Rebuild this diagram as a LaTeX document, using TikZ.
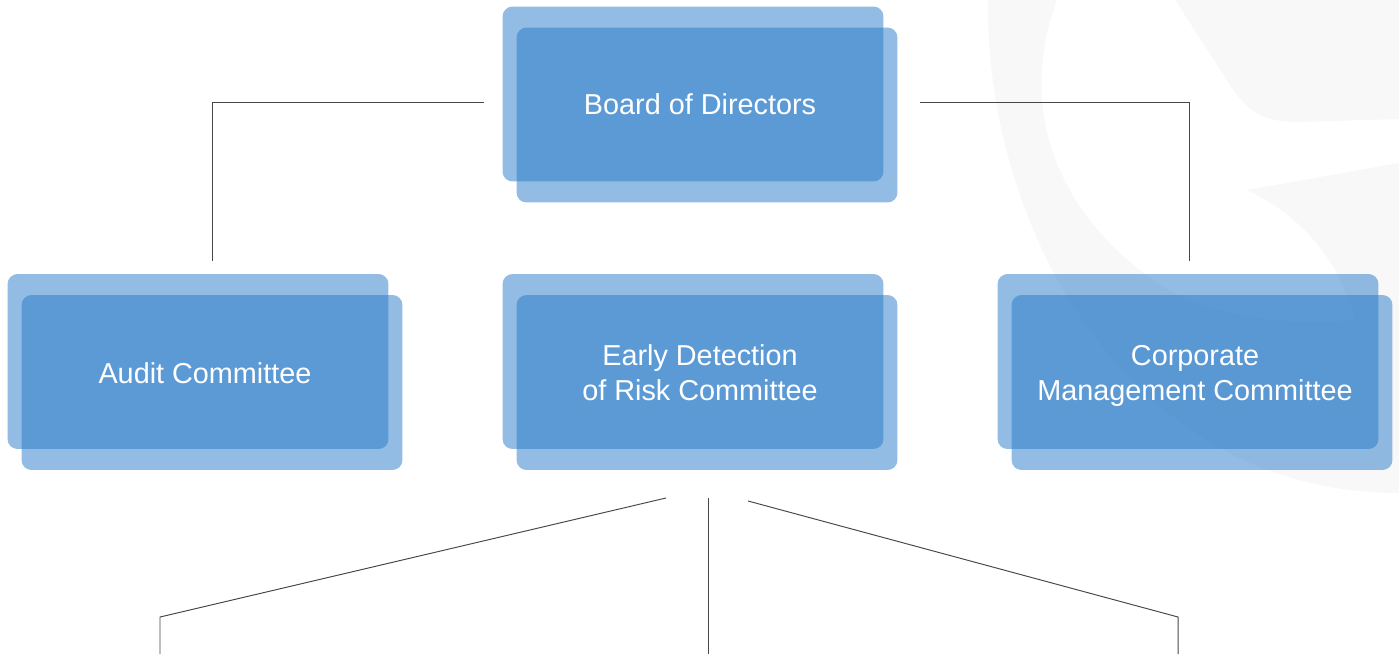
\documentclass[tikz,border=0pt]{standalone}
\usepackage{fontspec}
\setmainfont{Liberation Sans}
\definecolor{boxblue}{RGB}{39,121,201}
\definecolor{markgray}{RGB}{248,248,248}
\tikzset{
    layer/.style = {fill = boxblue, fill opacity = 0.5, rounded corners = 0.2cm,
        minimum width = 7.62cm, minimum height = 3.5cm, inner sep = 0, outer sep = 0},
    caption/.style = {text = white, align = center, font = \fontsize{16.4}{19.9}\selectfont},
    link/.style = {draw = black!72, line width = 0.55pt}
}
\begin{document}
\begin{tikzpicture}[x = 0.02cm, y = -0.02cm]
    \useasboundingbox (0, 0) rectangle (1399, 654);
        \fill[markgray]
            (988, 0) .. controls (985, 230) and (1130, 493) .. (1399, 493)
            -- (1399, 163) -- (1247, 190)
            .. controls (1300, 215) and (1340, 260) .. (1355, 320)
            .. controls (1250, 330) and (1170, 300) .. (1140, 270)
            .. controls (1050, 200) and (1020, 100) .. (1057, 0)
            -- cycle;
        \fill[markgray]
            (1175, 0) -- (1230, 85)
            .. controls (1250, 117) and (1270, 122) .. (1300, 122)
            -- (1399, 119) -- (1399, 0) -- cycle;
            \node[layer] (boardback) at (693, 94) {};
            \node[layer] (boardfront) at (707, 115) {};
            \node[caption] (board) at (700, 104.5) {Board of Directors};
            \node[layer] (auditback) at (198, 361.5) {};
            \node[layer] (auditfront) at (212, 382.5) {};
            \node[caption] (audit) at (205, 373) {Audit Committee};
            \node[layer] (earlyback) at (693, 361.5) {};
            \node[layer] (earlyfront) at (707, 382.5) {};
            \node[caption] (early) at (700, 373) {Early Detection \\ of Risk Committee};
            \node[layer] (corpback) at (1188, 361.5) {};
            \node[layer] (corpfront) at (1202, 382.5) {};
            \node[caption] (corp) at (1195, 375.5) {Corporate \\ Management Committee};
        \coordinate (subL) at (160, 654);
        \coordinate (subM) at (708, 654);
        \coordinate (subR) at (1178, 654);
        \draw[link]
            ([shift = {(-19, 8)}]boardback.west) -| ([shift = {(14, -13)}]auditback.north);
        \draw[link]
            ([shift = {(23, -13)}]boardfront.east) -| ([shift = {(1, -13)}]corpback.north);
        \draw[link]
            ([shift = {(-41, 28)}]earlyfront.south) -- ([shift = {(0, -37)}]subL) -- (subL);
        \draw[link]
            (earlyfront.south -| subM) ++(0, 28) -- (subM);
        \draw[link]
            ([shift = {(41, 31)}]earlyfront.south) -- ([shift = {(0, -37)}]subR) -- (subR);
\end{tikzpicture}
\end{document}
